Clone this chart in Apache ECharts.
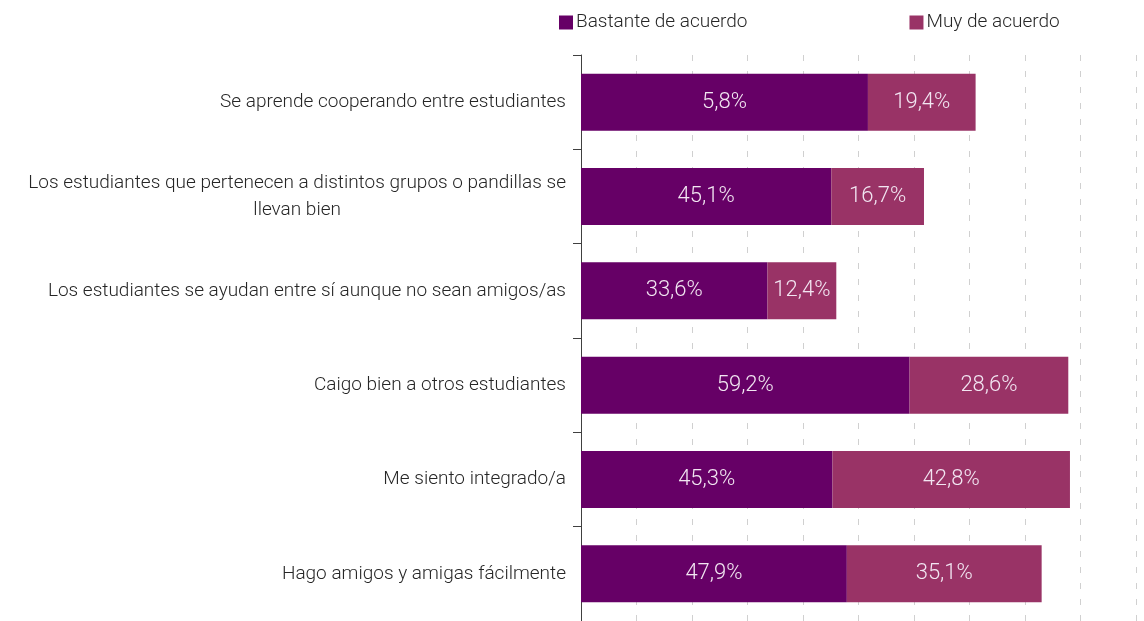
<!DOCTYPE html>
<html><head><meta charset="utf-8">
<script src="https://cdn.jsdelivr.net/npm/echarts@6/dist/echarts.min.js"></script>
<style>html,body{margin:0;padding:0;background:#fff}#c{width:1144px;height:621px}</style>
</head><body><div id="c"></div>
<script>
const categories = [
  "Se aprende cooperando entre estudiantes",
  "Los estudiantes que pertenecen a distintos grupos o pandillas se\nllevan bien",
  "Los estudiantes se ayudan entre sí aunque no sean amigos/as",
  "Caigo bien a otros estudiantes",
  "Me siento integrado/a",
  "Hago amigos y amigas fácilmente"
];
const seriesNames = ["Bastante de acuerdo", "Muy de acuerdo"];
const bastante = [51.7, 45.1, 33.6, 59.2, 45.3, 47.9];
const muy = [19.4, 16.7, 12.4, 28.6, 42.8, 35.1];
const bastanteLabels = ["5,8%", "45,1%", "33,6%", "59,2%", "45,3%", "47,9%"];
const muyLabels = ["19,4%", "16,7%", "12,4%", "28,6%", "42,8%", "35,1%"];

const font = "Roboto";
const chart = echarts.init(document.getElementById('c'));
chart.setOption({
  animation: false,
  legend: {
    data: seriesNames, left: 554, top: 8, itemWidth: 14, itemHeight: 14, itemGap: 162,
    icon: 'rect',
    textStyle: { fontFamily: font, fontWeight: 300, fontSize: 19, color: '#262626', padding: [0,0,0,-2] }
  },
  grid: { left: 581, right: 8, top: 55, height: 570, containLabel: false },
  xAxis: {
    type: 'value', min: 0, max: 100, interval: 10,
    axisLine: { show: false }, axisTick: { show: false }, axisLabel: { show: false },
    splitLine: { show: true, lineStyle: { color: '#d0d0d0', type: [6, 10], width: 1 } }
  },
  yAxis: {
    type: 'category', data: categories, inverse: true,
    axisLine: { show: true, lineStyle: { color: '#404040', width: 1 } },
    axisTick: { show: true, length: 8, lineStyle: { color: '#404040' } },
    axisLabel: {
      fontFamily: font, fontWeight: 300, fontSize: 19, color: '#262626', margin: 15, lineHeight: 27,
      formatter: function (v) {
        return v.split('\n').map(function (l) { return '{c|' + l + '}'; }).join('\n');
      },
      rich: { c: { align: 'center', fontFamily: font, fontWeight: 300, fontSize: 19, color: '#262626', lineHeight: 27 } }
    }
  },
  series: [
    {
      name: seriesNames[0], type: 'bar', stack: 's', data: bastante, barWidth: 57,
      itemStyle: { color: '#660066' },
      label: { show: true, position: 'inside', fontFamily: font, fontWeight: 300, fontSize: 22, color: '#f2e6f2',
        formatter: function (p) { return bastanteLabels[p.dataIndex]; } }
    },
    {
      name: seriesNames[1], type: 'bar', stack: 's', data: muy, barWidth: 57,
      itemStyle: { color: '#993366' },
      label: { show: true, position: 'inside', fontFamily: font, fontWeight: 300, fontSize: 22, color: '#f2e6f2',
        formatter: function (p) { return muyLabels[p.dataIndex]; } }
    }
  ]
});
</script></body></html>
